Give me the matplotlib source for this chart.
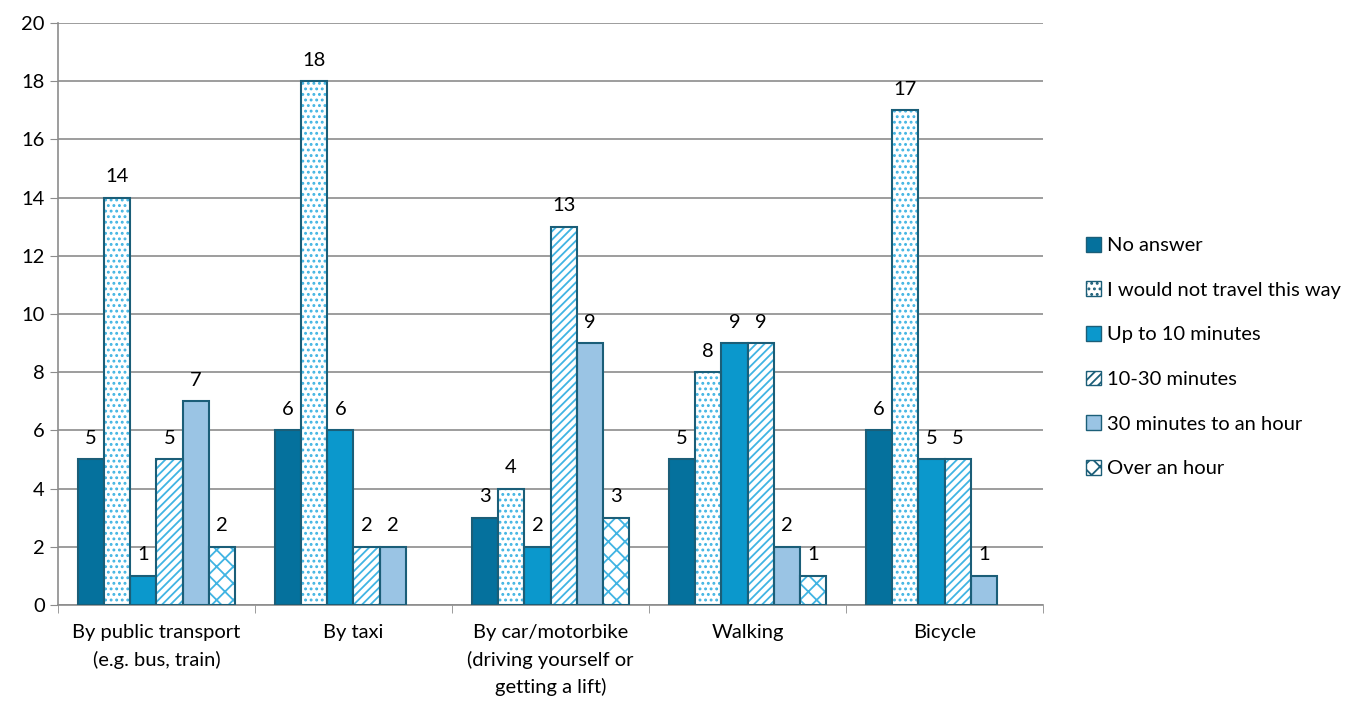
import numpy as np
import matplotlib.pyplot as plt
from matplotlib.patches import Patch

categories = ["By public transport\n(e.g. bus, train)", "By taxi",
              "By car/motorbike\n(driving yourself or\ngetting a lift)", "Walking", "Bicycle"]
series = ["No answer", "I would not travel this way", "Up to 10 minutes",
          "10-30 minutes", "30 minutes to an hour", "Over an hour"]
no_answer = [5, 6, 3, 5, 6]
not_travel = [14, 18, 4, 8, 17]
up_to_10 = [1, 6, 2, 9, 5]
min_10_30 = [5, 2, 13, 9, 5]
min_30_60 = [7, 2, 9, 2, 1]
over_hour = [2, 0, 3, 1, 0]

values = [no_answer, not_travel, up_to_10, min_10_30, min_30_60, over_hour]
faces = ["#05719d", "white", "#0b98cc", "white", "#9ac4e4", "white"]
hatches = [None, "...", None, "////", None, "xx"]
hatch_col = "#40b4e3"
edge = "#1b5e78"

plt.rcParams['font.family'] = ['Lato', 'DejaVu Sans']
plt.rcParams['hatch.linewidth'] = 1.3
fs = 14.5

fig = plt.figure(figsize=(13.64, 7.07), dpi=100)
ax = fig.add_axes([0.0425, 0.1443, 0.7222, 0.8232])

x = np.arange(len(categories))
w = 0.8 / len(series)
for i, (name, vals) in enumerate(zip(series, values)):
    pos = x - 0.4 + w * (i + 0.5)
    keep = [j for j, v in enumerate(vals) if v > 0]
    pos = pos[keep]
    vals = [vals[j] for j in keep]
    if hatches[i]:
        ax.bar(pos, vals, w, color=faces[i], hatch=hatches[i], edgecolor=hatch_col,
               linewidth=0, zorder=3)
        ax.bar(pos, vals, w, fill=False, edgecolor=edge, linewidth=1.5, zorder=4)
    else:
        ax.bar(pos, vals, w, color=faces[i], edgecolor=edge, linewidth=1.5, zorder=3)
    for p, v in zip(pos, vals):
        ax.annotate(str(v), (p, v), xytext=(0, 9), textcoords="offset points",
                    ha="center", va="bottom", fontsize=fs)

ax.set_xlim(-0.5, len(categories) - 0.5)
ax.set_ylim(0, 20)
ax.set_yticks(range(0, 21, 2))
ax.grid(axis='y', color='#8c8c8c', linewidth=1.2, zorder=0)
ax.set_xticks(x)
ax.set_xticklabels(categories, fontsize=fs, linespacing=1.6)
ax.set_xticks(np.arange(-0.5, len(categories)), minor=True)
ax.tick_params(axis='x', which='major', length=0, pad=14)
ax.tick_params(axis='x', which='minor', length=6, color='#8c8c8c')
ax.tick_params(axis='y', labelsize=fs, length=6, color='#8c8c8c')
for s in ['top', 'right']:
    ax.spines[s].set_visible(False)
for s in ['left', 'bottom']:
    ax.spines[s].set_color('#8c8c8c')
    ax.spines[s].set_linewidth(1.2)

handles = []
for i, name in enumerate(series):
    handles.append(Patch(facecolor=faces[i], hatch=hatches[i], edgecolor=edge, label=name))
ax.legend(handles=handles, loc='center left', bbox_to_anchor=(1.025, 0.426), frameon=False,
          fontsize=fs, handlelength=0.75, handleheight=0.75, handletextpad=0.3,
          labelspacing=1.35)

fig.savefig("out.png", dpi=100)
